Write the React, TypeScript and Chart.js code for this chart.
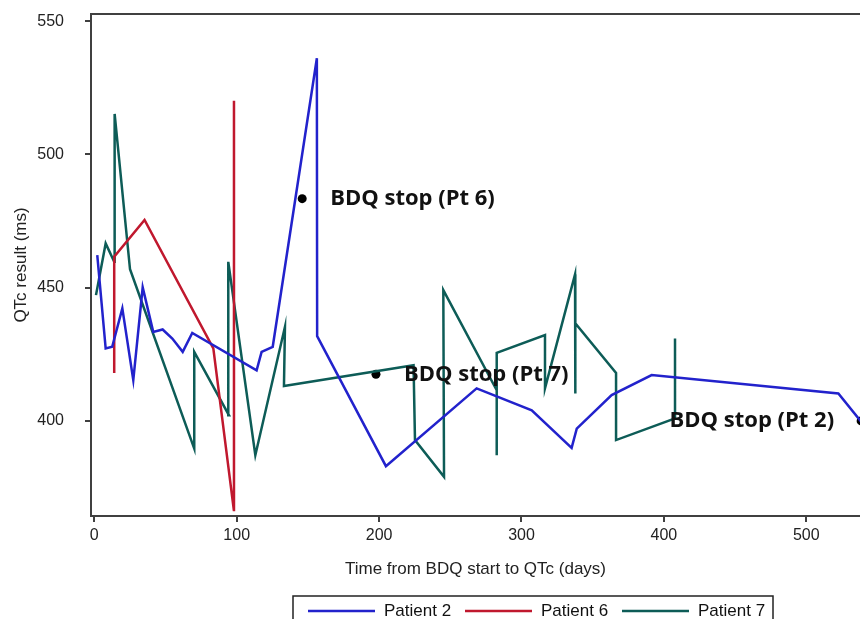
import React, { useEffect, useRef } from 'react';
import { Chart, registerables } from 'chart.js';

Chart.register(...registerables);

// ---- data ----
const seriesNames = ['Patient 2', 'Patient 6', 'Patient 7'];
const seriesColors = ['#2222CC', '#C0182E', '#0D5C57'];

const p2Days = [2.1, 8.0, 12.6, 19.7, 27.4, 34.0, 41.4, 48.0, 54.8, 62.1, 68.8, 114.0, 117.5, 125.3, 156.3, 156.5, 204.8, 268.5, 307.2, 335.2, 338.8, 363.3, 391.4, 522.5, 541.0];
const p2QTc = [462.2, 427.2, 427.8, 442.2, 415.3, 450.1, 433.4, 434.3, 430.9, 425.9, 433.0, 419.0, 425.9, 427.8, 536.1, 431.8, 383.0, 412.2, 404.0, 389.9, 397.1, 409.7, 417.2, 410.3, 398.0];

const p6Days = [14.0, 14.0, 35.3, 83.6, 98.1, 98.1];
const p6QTc = [418.0, 461.6, 475.4, 427.2, 366.1, 520.1];

const p7Days = [1.2, 8.0, 14.0, 14.3, 25.1, 70.2, 70.2, 94.6, 94.1, 113.1, 133.9, 133.2, 224.2, 225.2, 245.6, 245.1, 282.6, 282.6, 282.6, 316.5, 316.5, 337.6, 337.6, 338.0, 366.4, 366.4, 407.8, 407.8];
const p7QTc = [447.2, 466.6, 459.7, 515.2, 456.9, 389.6, 425.9, 402.1, 459.7, 387.1, 435.3, 413.1, 420.9, 392.8, 379.0, 449.1, 411.5, 387.1, 425.5, 432.2, 412.2, 455.0, 410.3, 436.6, 418.0, 392.8, 400.9, 430.9];

const stopDays = [146.0, 197.8, 538.5];
const stopQTc = [483.4, 417.5, 400.0];
const stopLabels = ['BDQ stop (Pt 6)', 'BDQ stop (Pt 7)', 'BDQ stop (Pt 2)'];
const stopLabelSide = ['right', 'right', 'left'];

const xTicks = [0, 100, 200, 300, 400, 500];
const yTicks = [400, 450, 500, 550];
const xTitle = 'Time from BDQ start to QTc (days)';
const yTitle = 'QTc result (ms)';

const AXIS_COLOR = '#404040';
const SANS = '"Liberation Sans", Arial, sans-serif';

const toPoints = (xs: number[], ys: number[]) => xs.map((x, i) => ({ x, y: ys[i] }));

const framePlugin = {
  id: 'frameTop',
  afterDraw(chart: any) {
    const { ctx, chartArea } = chart;
    ctx.save();
    ctx.strokeStyle = AXIS_COLOR;
    ctx.lineWidth = 2;
    ctx.beginPath();
    ctx.moveTo(chartArea.left - 1, chartArea.top);
    ctx.lineTo(chartArea.right, chartArea.top);
    ctx.stroke();
    ctx.restore();
  },
};

const stopLabelPlugin = {
  id: 'stopLabels',
  afterDatasetsDraw(chart: any) {
    const { ctx, scales } = chart;
    ctx.save();
    ctx.font = '700 22px "Open Sans", sans-serif';
    ctx.fillStyle = '#111';
    ctx.textBaseline = 'middle';
    stopLabels.forEach((t, i) => {
      const px = scales.x.getPixelForValue(stopDays[i]);
      const py = scales.y.getPixelForValue(stopQTc[i]);
      if (stopLabelSide[i] === 'right') {
        ctx.textAlign = 'left';
        ctx.fillText(t, px + 28, py);
      } else {
        ctx.textAlign = 'right';
        ctx.fillText(t, px - 27, py);
      }
    });
    ctx.restore();
  },
};

const legendPlugin = {
  id: 'boxLegend',
  afterDraw(chart: any) {
    const { ctx } = chart;
    ctx.save();
    const boxLeft = 293;
    const boxTop = 596;
    const boxRight = 773;
    ctx.strokeStyle = '#222';
    ctx.lineWidth = 1.5;
    ctx.strokeRect(boxLeft, boxTop, boxRight - boxLeft, 40);
    ctx.font = '17px ' + SANS;
    ctx.textBaseline = 'middle';
    ctx.textAlign = 'left';
    const cy = 611;
    const lineStarts = [308, 465, 622];
    seriesNames.forEach((name, i) => {
      const x0 = lineStarts[i];
      ctx.strokeStyle = seriesColors[i];
      ctx.lineWidth = 2.5;
      ctx.beginPath();
      ctx.moveTo(x0, cy);
      ctx.lineTo(x0 + 67, cy);
      ctx.stroke();
      ctx.fillStyle = '#111';
      ctx.fillText(name, x0 + 76, cy);
    });
    ctx.restore();
  },
};

export default function App() {
  const canvasRef = useRef<HTMLCanvasElement | null>(null);

  useEffect(() => {
    if (!canvasRef.current) return;
    const lineDs = (i: number, xs: number[], ys: number[]) => ({
      type: 'line' as const,
      label: seriesNames[i],
      data: toPoints(xs, ys),
      borderColor: seriesColors[i],
      backgroundColor: seriesColors[i],
      borderWidth: 2.5,
      pointRadius: 0,
      tension: 0,
      fill: false,
    });
    const chart = new Chart(canvasRef.current, {
      type: 'line',
      data: {
        datasets: [
          lineDs(0, p2Days, p2QTc),
          lineDs(1, p6Days, p6QTc),
          lineDs(2, p7Days, p7QTc),
          {
            type: 'scatter' as const,
            label: 'BDQ stop',
            data: toPoints(stopDays, stopQTc),
            showLine: false,
            pointRadius: 4.5,
            pointBackgroundColor: '#000',
            pointBorderWidth: 0,
            borderColor: '#000',
          } as any,
        ],
      },
      options: {
        responsive: false,
        animation: false,
        layout: { autoPadding: false, padding: { left: 0, right: 0, top: 14, bottom: 33 } },
        plugins: {
          legend: { display: false },
          tooltip: { enabled: false },
        },
        scales: {
          x: {
            type: 'linear',
            min: -2.3,
            max: 537.7,
            afterBuildTicks: (axis: any) => {
              axis.ticks = xTicks.map((v) => ({ value: v }));
            },
            afterFit: (axis: any) => {
              axis.height = 70;
              axis.paddingLeft = 0;
              axis.paddingRight = 0;
            },
            grid: { drawOnChartArea: false, drawTicks: true, tickLength: 6, color: AXIS_COLOR, lineWidth: 2 },
            border: { display: true, color: AXIS_COLOR, width: 2 },
            ticks: { color: '#222', font: { family: SANS, size: 16 }, padding: 4, maxRotation: 0 },
            title: { display: true, text: xTitle, color: '#222', font: { family: SANS, size: 17 }, padding: { top: 0, bottom: 6 } },
          },
          y: {
            type: 'linear',
            min: 364.3,
            max: 552.7,
            afterBuildTicks: (axis: any) => {
              axis.ticks = yTicks.map((v) => ({ value: v }));
            },
            afterFit: (axis: any) => {
              axis.width = 91;
              axis.paddingTop = 0;
              axis.paddingBottom = 0;
            },
            grid: { drawOnChartArea: false, drawTicks: true, tickLength: 6, color: AXIS_COLOR, lineWidth: 2 },
            border: { display: true, color: AXIS_COLOR, width: 2 },
            ticks: { color: '#222', font: { family: SANS, size: 16 }, padding: 21 },
            title: { display: true, text: yTitle, color: '#222', font: { family: SANS, size: 17 }, padding: { top: 11, bottom: 0 } },
          },
        },
      },
      plugins: [framePlugin, stopLabelPlugin, legendPlugin],
    });
    return () => chart.destroy();
  }, []);

  return (
    <div style={{ position: 'absolute', left: 0, top: 0, width: 860, height: 619, overflow: 'hidden', background: '#fff' }}>
      <canvas ref={canvasRef} width={860} height={619} style={{ display: 'block' }} />
    </div>
  );
}
